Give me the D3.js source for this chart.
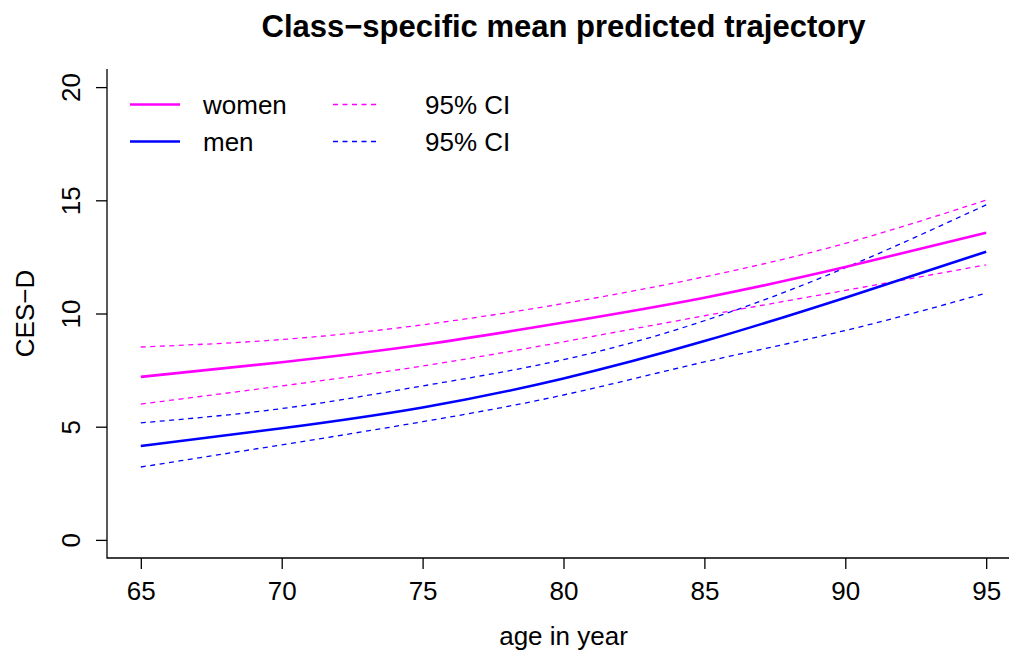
<!DOCTYPE html>
<html>
<head>
<meta charset="utf-8">
<script src="https://cdn.jsdelivr.net/npm/d3@7"></script>
<style>
  html, body { margin: 0; padding: 0; background: #fff; }
  svg { display: block; }
  text { font-family: "Liberation Sans", Arial, Helvetica, sans-serif; fill: #000; }
</style>
</head>
<body>
<svg id="chart" width="1009" height="654"></svg>
<script>
// ---- data ----
const ages = [65, 70, 75, 80, 85, 90, 95];
const womenMean  = [7.20, 7.85, 8.62, 9.60, 10.70, 12.05, 13.57];
const womenUpper = [8.52, 8.85, 9.50, 10.44, 11.62, 13.10, 15.01];
const womenLower = [6.00, 6.80, 7.68, 8.75, 9.90, 11.02, 12.15];
const menMean    = [4.15, 4.93, 5.85, 7.13, 8.78, 10.70, 12.73];
const menUpper   = [5.17, 5.80, 6.80, 7.96, 9.68, 12.02, 14.80];
const menLower   = [3.22, 4.20, 5.22, 6.40, 7.86, 9.25, 10.90];
const xTicks = [65, 70, 75, 80, 85, 90, 95];
const yTicks = [0, 5, 10, 15, 20];
const legendLabels = ["women", "men"];
const ciLabel = "95% CI";
const title = "Class\u2212specific mean predicted trajectory";
const xTitle = "age in year";
const yTitle = "CES\u2212D";

// ---- layout ----
const PINK = "#FF00FF", BLUE = "#0000FF";
const plotL = 107, plotR = 1020, plotT = 69, plotB = 558;
const svg = d3.select("#chart");

const x = d3.scaleLinear().domain([63.8, 96.2]).range([plotL, plotR]);
const y = d3.scaleLinear().domain([-0.8, 20.8]).range([plotB, plotT]);

// L-shaped box
svg.append("path")
  .attr("d", `M${plotL},${plotT}V${plotB}H${plotR}`)
  .attr("fill", "none").attr("stroke", "#000").attr("stroke-width", 1.3);

// axes
const xAxis = d3.axisBottom(x).tickValues(xTicks).tickSize(11).tickPadding(6).tickFormat(d3.format("d"));
const gx = svg.append("g").attr("transform", `translate(0,${plotB})`).call(xAxis);
gx.select(".domain").remove();
gx.selectAll("line").attr("stroke", "#000").attr("stroke-width", 1.3);
gx.selectAll("text").attr("font-size", 26).attr("dy", null).attr("y", 42)
  .attr("font-family", "Liberation Sans, Arial, sans-serif");

const yAxis = d3.axisLeft(y).tickValues(yTicks).tickSize(11).tickFormat(d3.format("d"));
const gy = svg.append("g").attr("transform", `translate(${plotL},0)`).call(yAxis);
gy.select(".domain").remove();
gy.selectAll("line").attr("stroke", "#000").attr("stroke-width", 1.3);
gy.selectAll("text")
  .attr("font-size", 26).attr("x", null).attr("dy", null)
  .attr("text-anchor", "middle")
  .attr("transform", "translate(-27,0) rotate(-90)")
  .attr("y", 0)
  .attr("font-family", "Liberation Sans, Arial, sans-serif");

// lines
const line = d3.line().x((d, i) => x(ages[i])).y(d => y(d)).curve(d3.curveNatural);
const series = [
  { v: womenUpper, c: PINK, dash: true },
  { v: womenLower, c: PINK, dash: true },
  { v: menUpper, c: BLUE, dash: true },
  { v: menLower, c: BLUE, dash: true },
  { v: womenMean, c: PINK, dash: false },
  { v: menMean, c: BLUE, dash: false }
];
svg.append("g").selectAll("path").data(series).join("path")
  .attr("d", d => line(d.v))
  .attr("fill", "none")
  .attr("stroke", d => d.c)
  .attr("stroke-width", d => d.dash ? 1.3 : 2.6)
  .attr("stroke-dasharray", d => d.dash ? "5,4.5" : null);

// legend
const legY = [104.5, 141.5];
const legColors = [PINK, BLUE];
const leg = svg.append("g");
legendLabels.forEach((lab, i) => {
  leg.append("line").attr("x1", 130).attr("x2", 180).attr("y1", legY[i]).attr("y2", legY[i])
    .attr("stroke", legColors[i]).attr("stroke-width", 2.6);
  leg.append("text").attr("x", 203).attr("y", legY[i]).attr("dy", "0.35em")
    .attr("font-size", 26).text(lab);
  leg.append("line").attr("x1", 333).attr("x2", 377).attr("y1", legY[i]).attr("y2", legY[i])
    .attr("stroke", legColors[i]).attr("stroke-width", 1.3).attr("stroke-dasharray", "5,4.5");
  leg.append("text").attr("x", 425).attr("y", legY[i]).attr("dy", "0.35em")
    .attr("font-size", 26).text(ciLabel);
});

// titles
svg.append("text").attr("x", (plotL + plotR) / 2).attr("y", 37)
  .attr("text-anchor", "middle").attr("font-size", 31).attr("font-weight", "bold").text(title);
svg.append("text").attr("x", (plotL + plotR) / 2).attr("y", 645)
  .attr("text-anchor", "middle").attr("font-size", 26).text(xTitle);
svg.append("text").attr("transform", `translate(34,${(plotT + plotB) / 2}) rotate(-90)`)
  .attr("text-anchor", "middle").attr("font-size", 26).text(yTitle);
</script>
</body>
</html>
